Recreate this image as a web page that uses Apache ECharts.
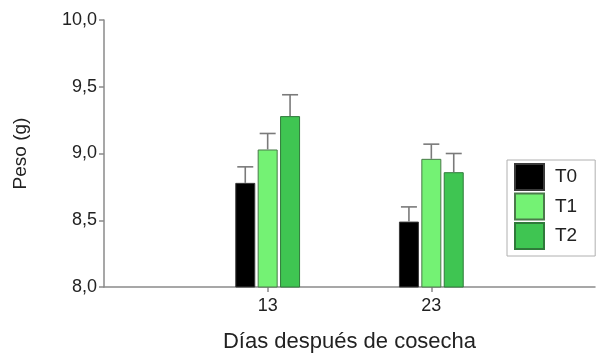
<!DOCTYPE html>
<html>
<head>
<meta charset="utf-8">
<script src="https://cdn.jsdelivr.net/npm/echarts@6/dist/echarts.min.js"></script>
<style>
  html, body { margin: 0; padding: 0; background: #fff; }
  #chart { width: 598px; height: 358px; }
</style>
</head>
<body>
<div id="chart"></div>
<script>
// Días después de cosecha
const days = ['13', '23'];
// Peso medio (g) por tratamiento
const t0 = [8.78, 8.49];
const t1 = [9.03, 8.96];
const t2 = [9.28, 8.86];
// Error estándar (solo hacia arriba)
const errT0 = [0.12, 0.11];
const errT1 = [0.12, 0.11];
const errT2 = [0.16, 0.14];
const treatments = ['T0', 'T1', 'T2'];
const yTicks = { min: 8, max: 10, step: 0.5 };

const FONT = 'Arial, "Liberation Sans", sans-serif';
const colors = ['#000000', '#74f274', '#3fc552'];
const borders = ['#3a3a3a', '#4a7a4a', '#2f7a3a'];
const BAR_W = 20;
const GAP_PX = 2.4;

// Empty slots on both ends give the axis its left and right margins
const cats = [''].concat(days, ['']);
const pad = arr => ['-'].concat(arr, ['-']);

const means = [t0, t1, t2];
const errs = [errT0, errT1, errT2];

const barSeries = treatments.map((name, k) => ({
  name: name,
  type: 'bar',
  data: pad(means[k]),
  barWidth: BAR_W,
  barGap: (GAP_PX / BAR_W * 100) + '%',
  itemStyle: { color: colors[k], borderColor: borders[k], borderWidth: 1 },
  z: 2
}));

const errSeries = treatments.map((name, k) => ({
  name: 'err' + name,
  type: 'custom',
  z: 3,
  data: means[k].map((m, i) => [i + 1, m, errs[k][i]]),
  renderItem: function (params, api) {
    const off = (k - 1) * (BAR_W + GAP_PX);
    const base = api.coord([api.value(0), api.value(1)]);
    const top = api.coord([api.value(0), api.value(1) + api.value(2)]);
    const x = base[0] + off;
    const half = 8;
    const style = { stroke: '#7a7a7a', lineWidth: 1.6 };
    return {
      type: 'group',
      children: [
        { type: 'line', shape: { x1: x, y1: base[1], x2: x, y2: top[1] }, style: style },
        { type: 'line', shape: { x1: x - half, y1: top[1], x2: x + half, y2: top[1] }, style: style }
      ]
    };
  }
}));

const chart = echarts.init(document.getElementById('chart'), null, { renderer: 'canvas' });
chart.setOption({
  animation: false,
  backgroundColor: '#fff',
  textStyle: { fontFamily: FONT },
  grid: { left: 104, right: 1, top: 20, bottom: 70, containLabel: false },
  legend: {
    data: treatments,
    orient: 'vertical',
    left: 507,
    top: 160,
    itemWidth: 29,
    itemHeight: 26,
    itemGap: 1.5,
    padding: [3, 18, 6, 7],
    borderColor: '#b0b0b0',
    borderWidth: 1,
    icon: 'rect',
    textStyle: { fontFamily: FONT, fontSize: 19, color: '#222', padding: [0, 0, 0, 6] }
  },
  xAxis: {
    type: 'category',
    data: cats,
    boundaryGap: false,
    name: 'Días después de cosecha',
    nameLocation: 'middle',
    nameGap: 44,
    nameTextStyle: { fontFamily: FONT, fontSize: 22, color: '#222' },
    axisLine: { lineStyle: { color: '#8a8a8a', width: 1.5 } },
    axisTick: {
      length: 5,
      interval: (idx, val) => val !== '',
      lineStyle: { color: '#8a8a8a', width: 1.5 }
    },
    axisLabel: { fontFamily: FONT, fontSize: 18, color: '#222', margin: 10, interval: 0 },
    splitLine: { show: false }
  },
  yAxis: {
    type: 'value',
    min: yTicks.min,
    max: yTicks.max,
    interval: yTicks.step,
    name: 'Peso (g)',
    nameLocation: 'middle',
    nameGap: 74,
    nameRotate: 90,
    nameTextStyle: { fontFamily: FONT, fontSize: 19, color: '#222' },
    axisLine: { show: true, lineStyle: { color: '#8a8a8a', width: 1.5 } },
    axisTick: { show: true, length: 5, lineStyle: { color: '#8a8a8a', width: 1.5 } },
    axisLabel: {
      fontFamily: FONT, fontSize: 18, color: '#222', margin: 7,
      formatter: v => v.toFixed(1).replace('.', ',')
    },
    splitLine: { show: false }
  },
  series: barSeries.concat(errSeries)
});
</script>
</body>
</html>
